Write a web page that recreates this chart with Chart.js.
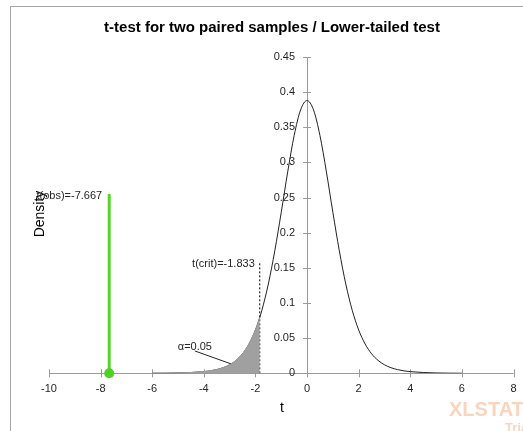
<!DOCTYPE html>
<html>
<head>
<meta charset="utf-8">
<style>
  html, body { margin: 0; padding: 0; background: #fff; }
  canvas { display: block; }
</style>
<script src="https://cdn.jsdelivr.net/npm/chart.js@4"></script>
</head>
<body>
<canvas id="chart" width="523" height="431"></canvas>
<script>
// density curve of t
const tValues = [-6, -5.5, -5, -4.5, -4, -3.75, -3.5, -3.25, -3, -2.75, -2.5, -2.25, -2, -1.833, -1.75, -1.5, -1.25, -1, -0.75, -0.5, -0.25,
  0, 0.25, 0.5, 0.75, 1, 1.25, 1.5, 1.75, 2, 2.25, 2.5, 2.75, 3, 3.25, 3.5, 3.75, 4, 4.5, 5, 5.5, 6];
const densityValues = [0.0001, 0.0002, 0.0005, 0.0011, 0.0024, 0.0035, 0.0053, 0.008, 0.0121, 0.0184, 0.0278, 0.0417, 0.0617, 0.0794, 0.0897, 0.1271, 0.1743, 0.2291, 0.2865, 0.3383, 0.3748,
  0.388, 0.3748, 0.3383, 0.2865, 0.2291, 0.1743, 0.1271, 0.0897, 0.0617, 0.0417, 0.0278, 0.0184, 0.0121, 0.008, 0.0053, 0.0035, 0.0024, 0.0011, 0.0005, 0.0002, 0.0001];

const tCrit = -1.833;
const tCritLineTop = 0.1575;
const tObs = -7.667;
const tObsLineTop = 0.255;
const alpha = 0.05;

const xTicks = [-10, -8, -6, -4, -2, 0, 2, 4, 6, 8];
const yTicks = [0, 0.05, 0.1, 0.15, 0.2, 0.25, 0.3, 0.35, 0.4, 0.45];

const curve = tValues.map((t, i) => ({ x: t, y: densityValues[i] }));
const tail = curve.filter(p => p.x <= tCrit);

const axisGrey = '#9a9a9a';
const textColor = '#262626';

const drawAxes = {
  id: 'drawAxes',
  beforeDatasetsDraw(chart) {
    const ctx = chart.ctx;
    const xs = chart.scales.x, ys = chart.scales.y;
    const x0 = xs.getPixelForValue(0);
    const y0 = ys.getPixelForValue(0);
    ctx.save();
    // frame
    ctx.strokeStyle = '#a6a6a6';
    ctx.lineWidth = 1;
    ctx.strokeRect(10.5, 6.5, 700, 700);

    ctx.strokeStyle = axisGrey;
    ctx.beginPath();
    ctx.moveTo(xs.getPixelForValue(-10), Math.round(y0) + 0.5);
    ctx.lineTo(xs.getPixelForValue(8), Math.round(y0) + 0.5);
    ctx.moveTo(Math.round(x0) + 0.5, ys.getPixelForValue(0));
    ctx.lineTo(Math.round(x0) + 0.5, ys.getPixelForValue(0.45));
    xTicks.forEach(v => {
      const px = Math.round(xs.getPixelForValue(v)) + 0.5;
      ctx.moveTo(px, y0 - 4);
      ctx.lineTo(px, y0 + 4);
    });
    yTicks.forEach(v => {
      const py = Math.round(ys.getPixelForValue(v)) + 0.5;
      ctx.moveTo(x0 - 4, py);
      ctx.lineTo(x0 + 4, py);
    });
    ctx.stroke();

    ctx.fillStyle = textColor;
    ctx.font = '11px "Liberation Sans", Arial, sans-serif';
    ctx.textAlign = 'center';
    ctx.textBaseline = 'middle';
    xTicks.forEach(v => ctx.fillText(String(v), xs.getPixelForValue(v), y0 + 16));
    ctx.textAlign = 'right';
    yTicks.forEach(v => ctx.fillText(String(v), x0 - 12, ys.getPixelForValue(v)));
    ctx.restore();
  },
  afterDatasetsDraw(chart) {
    const ctx = chart.ctx;
    const xs = chart.scales.x, ys = chart.scales.y;
    ctx.save();
    ctx.fillStyle = '#000';
    // title
    ctx.font = 'bold 15px "Liberation Sans", Arial, sans-serif';
    ctx.textAlign = 'center';
    ctx.textBaseline = 'middle';
    ctx.fillText('t-test for two paired samples / Lower-tailed test', 272, 28);

    // axis titles
    ctx.font = '14px "Liberation Sans", Arial, sans-serif';
    ctx.fillText('t', 282, 408);
    ctx.save();
    ctx.translate(40, 214);
    ctx.rotate(-Math.PI / 2);
    ctx.fillText('Density', 0, 0);
    ctx.restore();

    // annotations
    ctx.font = '11px "Liberation Sans", Arial, sans-serif';
    ctx.fillStyle = textColor;
    ctx.textAlign = 'right';
    ctx.fillText('t(crit)=' + tCrit, xs.getPixelForValue(tCrit) - 5, ys.getPixelForValue(tCritLineTop) + 1);
    ctx.fillText('t(obs)=' + tObs, xs.getPixelForValue(tObs) - 7, ys.getPixelForValue(tObsLineTop) + 2);
    ctx.textAlign = 'left';
    ctx.fillText('\u03b1=' + alpha, xs.getPixelForValue(-5.01), ys.getPixelForValue(0.0375));

    // watermark
    ctx.fillStyle = 'rgba(248, 170, 125, 0.5)';
    ctx.font = 'bold 20px "Liberation Sans", Arial, sans-serif';
    ctx.textAlign = 'left';
    ctx.fillText('XLSTAT', 449, 410);
    ctx.font = 'bold 13px "Liberation Sans", Arial, sans-serif';
    ctx.fillText('Trial', 505, 428);
    ctx.restore();
  }
};

new Chart(document.getElementById('chart'), {
  type: 'scatter',
  data: {
    datasets: [
      {
        data: tail,
        showLine: true,
        fill: 'origin',
        backgroundColor: '#a0a0a0',
        borderColor: '#a0a0a0',
        borderWidth: 1,
        pointRadius: 0,
        cubicInterpolationMode: 'monotone'
      },
      {
        data: curve,
        showLine: true,
        borderColor: '#222',
        borderWidth: 1,
        pointRadius: 0,
        cubicInterpolationMode: 'monotone'
      },
      {
        data: [{ x: tCrit, y: 0 }, { x: tCrit, y: tCritLineTop }],
        showLine: true,
        borderColor: '#000',
        borderWidth: 1,
        borderDash: [2, 2],
        pointRadius: 0
      },
      {
        data: [{ x: -4.35, y: 0.0318 }, { x: -2.64, y: 0.0094 }],
        showLine: true,
        borderColor: '#222',
        borderWidth: 1,
        pointRadius: 0
      },
      {
        data: [{ x: tObs, y: 0 }, { x: tObs, y: tObsLineTop }],
        showLine: true,
        clip: false,
        borderColor: '#55d42a',
        borderWidth: 3,
        pointRadius: [5, 0],
        pointBackgroundColor: '#4fd11f',
        pointBorderWidth: 0
      }
    ]
  },
  options: {
    responsive: false,
    animation: false,
    devicePixelRatio: 1,
    layout: { padding: { left: 49, right: 9.5, top: 57, bottom: 57.7 } },
    scales: {
      x: { type: 'linear', min: -10, max: 8, display: false },
      y: { type: 'linear', min: 0, max: 0.45, display: false }
    },
    plugins: {
      legend: { display: false },
      tooltip: { enabled: false }
    }
  },
  plugins: [drawAxes]
});
</script>
</body>
</html>
